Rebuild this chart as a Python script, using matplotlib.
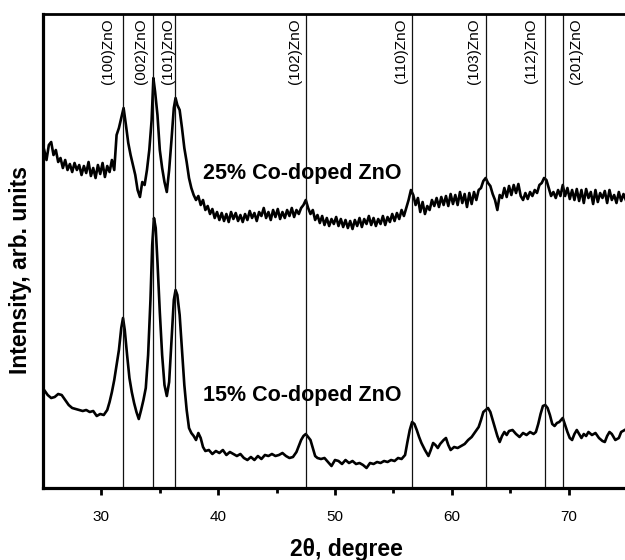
import numpy as np
import matplotlib
matplotlib.use('Agg')
import matplotlib.pyplot as plt

plt.rcParams['font.family'] = ['Liberation Sans', 'DejaVu Sans']

# ZnO reflections (2theta, degree) and their labels
peak_pos = [31.85, 34.45, 36.3, 47.55, 56.55, 62.95, 68.0, 69.5]
peak_names = ['(100)ZnO', '(002)ZnO', '(101)ZnO', '(102)ZnO',
              '(110)ZnO', '(103)ZnO', '(112)ZnO', '(201)ZnO']

# 25% Co-doped ZnO pattern
theta_25 = [25.1, 25.3, 25.5, 25.7, 25.9, 26.1, 26.3, 26.5, 26.7, 26.9,
            27.1, 27.3, 27.5, 27.7, 27.9, 28.1, 28.3, 28.5, 28.7, 28.9,
            29.1, 29.3, 29.5, 29.7, 29.9, 30.1, 30.3, 30.5, 30.7, 30.9,
            31.1, 31.3, 31.5, 31.7, 31.9, 32.1, 32.3, 32.5, 32.7, 32.9,
            33.1, 33.3, 33.5, 33.7, 33.9, 34.1, 34.3, 34.45, 34.6, 34.8,
            35.0, 35.2, 35.4, 35.6, 35.8, 36.0, 36.2, 36.35, 36.5, 36.7,
            36.9, 37.1, 37.3, 37.5, 37.7, 37.9, 38.1, 38.3, 38.5, 38.7,
            38.9, 39.1, 39.3, 39.5, 39.7, 39.9, 40.1, 40.3, 40.5, 40.7,
            40.9, 41.1, 41.3, 41.5, 41.7, 41.9, 42.1, 42.3, 42.5, 42.7,
            42.9, 43.1, 43.3, 43.5, 43.7, 43.9, 44.1, 44.3, 44.5, 44.7,
            44.9, 45.1, 45.3, 45.5, 45.7, 45.9, 46.1, 46.3, 46.5, 46.7,
            46.9, 47.1, 47.3, 47.5, 47.7, 47.9, 48.1, 48.3, 48.5, 48.7,
            48.9, 49.1, 49.3, 49.5, 49.7, 49.9, 50.1, 50.3, 50.5, 50.7,
            50.9, 51.1, 51.3, 51.5, 51.7, 51.9, 52.1, 52.3, 52.5, 52.7,
            52.9, 53.1, 53.3, 53.5, 53.7, 53.9, 54.1, 54.3, 54.5, 54.7,
            54.9, 55.1, 55.3, 55.5, 55.7, 55.9, 56.1, 56.3, 56.5, 56.7,
            56.9, 57.1, 57.3, 57.5, 57.7, 57.9, 58.1, 58.3, 58.5, 58.7,
            58.9, 59.1, 59.3, 59.5, 59.7, 59.9, 60.1, 60.3, 60.5, 60.7,
            60.9, 61.1, 61.3, 61.5, 61.7, 61.9, 62.1, 62.3, 62.5, 62.7,
            62.9, 63.1, 63.3, 63.5, 63.7, 63.9, 64.1, 64.3, 64.5, 64.7,
            64.9, 65.1, 65.3, 65.5, 65.7, 65.9, 66.1, 66.3, 66.5, 66.7,
            66.9, 67.1, 67.3, 67.5, 67.7, 67.9, 68.1, 68.3, 68.5, 68.7,
            68.9, 69.1, 69.3, 69.5, 69.7, 69.9, 70.1, 70.3, 70.5, 70.7,
            70.9, 71.1, 71.3, 71.5, 71.7, 71.9, 72.1, 72.3, 72.5, 72.7,
            72.9, 73.1, 73.3, 73.5, 73.7, 73.9, 74.1, 74.3, 74.5, 74.7,
            74.9]
int_25 = [350, 340, 355, 358, 345, 350, 338, 342, 332, 340,
          330, 336, 328, 337, 330, 335, 325, 334, 327, 338,
          324, 332, 322, 335, 326, 337, 323, 334, 328, 340,
          330, 365, 372, 382, 392, 375, 357, 345, 335, 325,
          310, 303, 318, 315, 330, 350, 380, 422, 408, 385,
          350, 332, 318, 308, 330, 360, 392, 402, 395, 390,
          372, 352, 338, 322, 312, 305, 300, 304, 295, 300,
          290, 294, 286, 291, 282, 288, 280, 287, 279, 286,
          278, 288, 281, 287, 279, 285, 278, 286, 280, 289,
          282, 287, 279, 288, 284, 292, 282, 288, 280, 290,
          283, 291, 281, 288, 282, 290, 284, 292, 283, 290,
          286, 292, 295, 300, 292, 286, 290, 280, 285, 277,
          284, 275, 282, 274, 281, 276, 283, 274, 281, 273,
          280, 272, 279, 271, 280, 274, 282, 273, 281, 276,
          284, 275, 282, 274, 281, 276, 284, 275, 283, 278,
          286, 279, 287, 281, 290, 284, 292, 300, 310, 305,
          295, 302, 288, 298, 286, 294, 290, 300, 294, 302,
          293, 303, 295, 304, 294, 306, 296, 305, 295, 308,
          297, 306, 293, 307, 296, 308, 300, 310, 312, 319,
          322, 317, 314, 306, 300, 290, 305, 302, 312, 303,
          314, 305, 315, 307, 316, 304, 300, 307, 301, 308,
          304, 310, 307, 315, 317, 322, 320, 312, 304, 308,
          302, 310, 304, 315, 304, 312, 301, 310, 300, 311,
          299, 310, 297, 311, 302, 308, 296, 310, 298, 307,
          302, 309, 297, 310, 300, 305, 297, 308, 299, 306,
          300]

# 15% Co-doped ZnO pattern
theta_15 = [25.1, 25.4, 25.7, 26.0, 26.3, 26.6, 26.9, 27.2, 27.5, 27.8,
            28.1, 28.4, 28.7, 29.0, 29.3, 29.6, 29.9, 30.2, 30.5, 30.7,
            30.9, 31.1, 31.3, 31.5, 31.7, 31.85, 32.0, 32.2, 32.4, 32.6,
            32.8, 33.0, 33.2, 33.4, 33.6, 33.8, 34.0, 34.2, 34.35, 34.5,
            34.65, 34.8, 35.0, 35.2, 35.4, 35.6, 35.8, 36.0, 36.2, 36.35,
            36.5, 36.7, 36.9, 37.1, 37.3, 37.5, 37.7, 37.9, 38.1, 38.3,
            38.5, 38.7, 38.9, 39.2, 39.5, 39.8, 40.1, 40.4, 40.7, 41.0,
            41.3, 41.6, 41.9, 42.2, 42.5, 42.8, 43.1, 43.4, 43.7, 44.0,
            44.3, 44.6, 44.9, 45.2, 45.5, 45.8, 46.1, 46.4, 46.7, 46.9,
            47.1, 47.3, 47.5, 47.7, 47.9, 48.1, 48.3, 48.5, 48.8, 49.1,
            49.4, 49.7, 50.0, 50.3, 50.6, 50.9, 51.2, 51.5, 51.8, 52.1,
            52.4, 52.7, 53.0, 53.3, 53.6, 53.9, 54.2, 54.5, 54.8, 55.1,
            55.4, 55.7, 56.0, 56.2, 56.4, 56.6, 56.8, 57.0, 57.2, 57.4,
            57.7, 58.0, 58.2, 58.4, 58.6, 58.8, 59.0, 59.3, 59.5, 59.7,
            59.9, 60.2, 60.5, 60.8, 61.1, 61.4, 61.7, 62.0, 62.3, 62.5,
            62.7, 62.9, 63.1, 63.3, 63.5, 63.7, 63.9, 64.1, 64.3, 64.5,
            64.7, 64.9, 65.2, 65.5, 65.8, 66.1, 66.4, 66.7, 67.0, 67.2,
            67.4, 67.6, 67.8, 68.0, 68.2, 68.4, 68.6, 68.8, 69.0, 69.2,
            69.5, 69.7, 69.9, 70.1, 70.3, 70.5, 70.7, 70.9, 71.1, 71.3,
            71.5, 71.7, 72.0, 72.3, 72.6, 72.9, 73.1, 73.3, 73.5, 73.7,
            74.0, 74.3, 74.5, 74.8]
int_15 = [110, 105, 102, 103, 106, 105, 100, 95, 92, 91,
          90, 89, 90, 88, 89, 84, 86, 85, 90, 98,
          108, 120, 135, 150, 172, 182, 170, 145, 122, 108,
          97, 88, 81, 90, 100, 112, 145, 200, 255, 282,
          272, 238, 188, 145, 115, 104, 118, 160, 200, 210,
          205, 185, 150, 115, 90, 72, 67, 64, 60, 67,
          62, 53, 49, 50, 46, 49, 47, 50, 45, 48,
          46, 44, 46, 42, 40, 43, 40, 44, 41, 45,
          44, 46, 44, 45, 47, 44, 42, 43, 48, 54,
          60, 64, 66, 63, 60, 52, 44, 42, 41, 42,
          38, 34, 40, 39, 36, 40, 37, 39, 36, 37,
          35, 32, 37, 36, 38, 37, 39, 38, 40, 39,
          42, 41, 45, 58, 70, 78, 76, 70, 63, 57,
          50, 44, 50, 57, 55, 52, 56, 60, 62, 55,
          50, 53, 52, 54, 56, 60, 63, 68, 73, 80,
          88, 90, 92, 88, 80, 72, 64, 58, 64, 68,
          65, 69, 70, 66, 63, 67, 65, 68, 66, 68,
          76, 86, 94, 95, 92, 85, 76, 74, 77, 78,
          82, 75, 68, 62, 60, 66, 70, 66, 62, 66,
          64, 68, 65, 67, 62, 59, 58, 64, 68, 66,
          60, 62, 68, 70]

sample_names = ['25% Co-doped ZnO', '15% Co-doped ZnO']
sample_text_y = [327, 105]

# label offsets from their line, pixels (negative = left of the line)
label_dx = [-15, -12, -7, -11, -11, -12, -14, 13]


def main():
    fig = plt.figure(figsize=(6.25, 5.6), dpi=100)
    ax = fig.add_axes([43 / 625, 72 / 560, 584 / 625, 474 / 560])

    ax.plot(theta_25, int_25, color='black', lw=1.9)
    ax.plot(theta_15, int_15, color='black', lw=1.9)

    for pos, name, dx in zip(peak_pos, peak_names, label_dx):
        ax.axvline(pos, color='#111111', lw=0.9)
        ax.annotate(name, xy=(pos, 1), xycoords=('data', 'axes fraction'),
                    xytext=(dx * 0.72, -3), textcoords='offset points',
                    rotation=90, ha='center', va='top', fontsize=11)

    for name, ty in zip(sample_names, sample_text_y):
        ax.text(38.7, ty, name, fontsize=15.5, fontweight='bold', va='center')

    ax.set_xlim(25, 75)
    ax.set_ylim(12, 486)
    ax.set_xticks([30, 40, 50, 60, 70])
    ax.set_xticks([35, 45, 55, 65, 75], minor=True)
    ax.set_yticks([])
    ax.tick_params(axis='x', which='major', direction='out', length=5, width=2,
                   labelsize=11, pad=11)
    ax.tick_params(axis='x', which='minor', direction='out', length=3.5, width=2)

    for side in ['left', 'bottom']:
        ax.spines[side].set_linewidth(2.3)
    ax.spines['top'].set_linewidth(2.0)
    ax.spines['right'].set_linewidth(2.0)

    ax.set_xlabel('2θ, degree', fontsize=16.5, fontweight='bold')
    ax.xaxis.set_label_coords(0.519, -0.105)
    ax.set_ylabel('Intensity, arb. units', fontsize=16.5, fontweight='bold')
    ax.yaxis.set_label_coords(-0.018, 0.46)

    fig.savefig('out.png', dpi=100)
    plt.close(fig)


if __name__ == '__main__':
    main()
